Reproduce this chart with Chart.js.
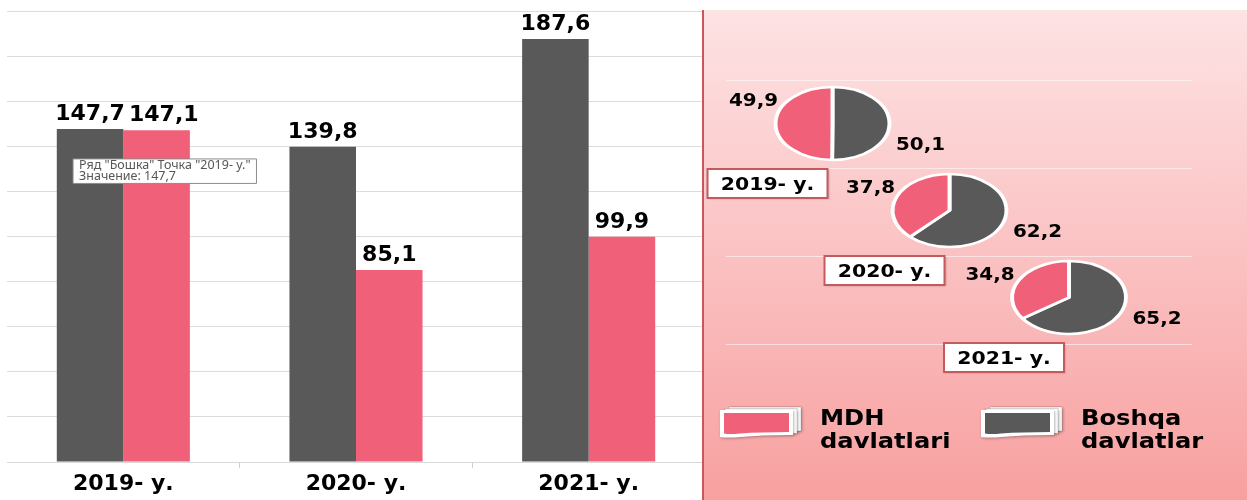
<!DOCTYPE html>
<html>
<head>
<meta charset="utf-8">
<title>MDH / Boshqa davlatlar</title>
<script src="https://cdn.jsdelivr.net/npm/chart.js@4.4.1/dist/chart.umd.min.js"></script>
<style>
  html, body { margin: 0; padding: 0; background: #fff; }
  #wrap { position: relative; width: 1247px; height: 500px; overflow: hidden; }
  #barCanvas { position: absolute; left: 0; top: 0; }
  #panel {
    position: absolute; left: 702px; top: 10px; width: 545px; height: 490px;
    background: linear-gradient(to bottom, #fde3e4, #f8a0a0);
    box-shadow: inset 2px 0 0 #c9585b;
  }
  #panel canvas { position: absolute; left: 0; top: 0; }
</style>
</head>
<body>
<div id="wrap">
  <canvas id="barCanvas" width="705" height="500"></canvas>
  <div id="panel">
    <canvas id="panelCanvas" width="545" height="490"></canvas>
    <canvas id="pie0" width="545" height="490"></canvas>
    <canvas id="pie1" width="545" height="490"></canvas>
    <canvas id="pie2" width="545" height="490"></canvas>
  </div>
</div>
<script>
'use strict';
/* ------------------------------------------------------------DATA */
const categories = ['2019- у.', '2020- у.', '2021- у.'];
const boshqaValues = [147.7, 139.8, 187.6];
const mdhValues = [147.1, 85.1, 99.9];
const boshqaShare = [50.1, 62.2, 65.2];
const mdhShare = [49.9, 37.8, 34.8];
const seriesNames = ['Бошка', 'МДХ'];
const legendNames = ['MDH davlatlari', 'Boshqa davlatlar'];
const yMin = 0;
const yMax = 200;
const yStep = 20;

/* ------------------------------------------------------------LOOK */
const DARK = '#595959';
const PINK = '#f06179';
const FONT = '"DejaVu Sans", "Liberation Sans", sans-serif';
const PANEL_W = 545;
const PANEL_H = 490;
const pieSpots = [{cx: 130.5, cy: 113.5}, {cx: 247.5, cy: 200.5}, {cx: 367, cy: 287.5}];
//pie centres inside the pink panel

function fmt(v){
  return v.toFixed(1).replace('.', ',');
}

function drawWide(ctx, text, x, y, size, sx, align){
  ctx.save();
  ctx.font = 'bold ' + size + 'px ' + FONT;
  ctx.textAlign = align || 'left';
  ctx.textBaseline = 'alphabetic';
  ctx.translate(x, y);
  ctx.scale(sx, 1);
  ctx.fillText(text, 0, 0);
  ctx.restore();
}
//text in the picture is a little stretched sideways, so draw it wider

/* ------------------------------------------------------------BAR CHART */
const barValueLabels = {
  id: 'barValueLabels',
  afterDatasetsDraw(chart){
    const ctx = chart.ctx;
    ctx.save();
    ctx.fillStyle = '#000';
    ctx.font = 'bold 21px ' + FONT;
    const sx = 1.05;
    for (let i = 0; i < chart.data.labels.length; i++){
      let prev = null;
      chart.data.datasets.forEach((ds, di) => {
        const bar = chart.getDatasetMeta(di).data[i];
        const text = fmt(ds.data[i]);
        const w = ctx.measureText(text).width * sx;
        let x = bar.x;
        const y = bar.y - 9;
        if (prev && x - w / 2 < prev.right + 2 && Math.abs(y - prev.y) < 20){
          x = prev.right + 4 + w / 2;
        }
        //nudge a label right when it would run into its neighbour
        drawWide(ctx, text, x, y, 21, sx, 'center');
        prev = {right: x + w / 2, y: y};
      });
    }
    ctx.restore();
  }
};

Chart.Tooltip.positioners.pinned = function(items){
  if (!items.length) return false;
  const el = items[0].element;
  return {x: el.x - 17, y: el.y + 30, xAlign: 'left', yAlign: 'top'};
};
//keeps the hover note where the picture shows it

const tipFont = {family: '"Noto Sans", "DejaVu Sans", sans-serif', size: 12.5, weight: 'normal', lineHeight: 0.9};

const barChart = new Chart(document.getElementById('barCanvas'), {
  type: 'bar',
  data: {
    labels: categories,
    datasets: [{
      label: seriesNames[0],
      data: boshqaValues,
      backgroundColor: DARK
    }, {
      label: seriesNames[1],
      data: mdhValues,
      backgroundColor: PINK
    }]
  },
  options: {
    responsive: false,
    animation: false,
    events: [],
    layout: {padding: {left: 7, top: 11, right: 0, bottom: 0}},
    datasets: {bar: {barPercentage: 1, categoryPercentage: 0.572}},
    scales: {
      x: {
        grid: {
          drawOnChartArea: false,
          drawTicks: true,
          tickLength: 6,
          color: c => (c.index > 0 && c.index < categories.length) ? '#cfcfcf' : 'rgba(0,0,0,0)'
        },
        border: {color: '#d9d9d9'},
        ticks: {color: '#000', padding: 5, font: {family: FONT, weight: 'bold', size: 22, lineHeight: 1}}
      },
      y: {
        min: yMin,
        max: yMax,
        ticks: {stepSize: yStep, display: false},
        grid: {color: '#dcdcdc', drawTicks: false},
        border: {display: false}
      }
    },
    plugins: {
      legend: {display: false},
      tooltip: {
        position: 'pinned',
        xAlign: 'left',
        yAlign: 'top',
        backgroundColor: '#fff',
        borderColor: '#8c8c8c',
        borderWidth: 1,
        cornerRadius: 0,
        caretSize: 0,
        caretPadding: 0,
        displayColors: false,
        padding: {left: 6, right: 6, top: 1, bottom: 1},
        titleFont: tipFont,
        bodyFont: tipFont,
        titleColor: '#575757',
        bodyColor: '#575757',
        titleMarginBottom: 0,
        titleSpacing: 0,
        bodySpacing: 0,
        callbacks: {
          title: items => 'Ряд "' + items[0].dataset.label + '" Точка "' + items[0].label + '"',
          label: item => 'Значение: ' + fmt(item.raw)
        }
      }
    }
  },
  plugins: [barValueLabels]
});

barChart.tooltip.setActiveElements([{datasetIndex: 0, index: 0}], {x: 0, y: 0});
barChart.update();
//shows the note on the first dark bar

/* ------------------------------------------------------------PANEL (grid + legend) */
function drawCardIcon(ctx, x, y, color){
  ctx.save();
  ctx.shadowColor = 'rgba(0,0,0,0.3)';
  ctx.shadowBlur = 3;
  ctx.shadowOffsetX = 1;
  ctx.shadowOffsetY = 1;
  ctx.fillStyle = '#fff';
  ctx.strokeStyle = 'rgba(0,0,0,0.18)';
  ctx.lineWidth = 0.8;
  ctx.fillRect(x + 9, y - 1, 72, 24);
  ctx.strokeRect(x + 9, y - 1, 72, 24);
  ctx.fillRect(x + 5, y + 0.5, 72, 25);
  ctx.strokeRect(x + 5, y + 0.5, 72, 25);
  ctx.beginPath();
  ctx.moveTo(x, y + 2);
  ctx.lineTo(x + 73, y + 2);
  ctx.lineTo(x + 73, y + 27);
  ctx.quadraticCurveTo(x + 40, y + 27, x + 20, y + 29);
  ctx.quadraticCurveTo(x + 8, y + 30, x, y + 29);
  ctx.closePath();
  ctx.fill();
  ctx.restore();
  ctx.save();
  ctx.fillStyle = color;
  ctx.beginPath();
  ctx.moveTo(x + 4, y + 5);
  ctx.lineTo(x + 69, y + 5);
  ctx.lineTo(x + 69, y + 24);
  ctx.quadraticCurveTo(x + 40, y + 24, x + 20, y + 25.5);
  ctx.quadraticCurveTo(x + 10, y + 26.5, x + 4, y + 25.5);
  ctx.closePath();
  ctx.fill();
  ctx.restore();
}

const panelLegend = {
  id: 'panelLegend',
  afterDraw(chart){
    const ctx = chart.ctx;
    const lefts = [18, 279];
    ctx.save();
    chart.data.datasets.forEach((ds, k) => {
      const left = lefts[k];
      drawCardIcon(ctx, left, 398, ds.backgroundColor);
      const words = ds.label.split(' ');
      ctx.fillStyle = '#000';
      drawWide(ctx, words[0], left + 100, 415, 20.5, 1.18);
      drawWide(ctx, words.slice(1).join(' '), left + 100, 437.5, 20.5, 1.18);
    });
    ctx.restore();
  }
};

new Chart(document.getElementById('panelCanvas'), {
  type: 'scatter',
  data: {
    datasets: [
      {label: legendNames[0], data: [], backgroundColor: PINK},
      {label: legendNames[1], data: [], backgroundColor: DARK}
    ]
  },
  options: {
    responsive: false,
    animation: false,
    events: [],
    layout: {padding: {left: 23.5, right: 55, top: 70, bottom: 156}},
    scales: {
      x: {display: false, min: 0, max: 1},
      y: {
        min: 0,
        max: 3,
        ticks: {stepSize: 1, display: false},
        grid: {color: 'rgba(255,255,255,0.55)', drawTicks: false},
        border: {display: false}
      }
    },
    plugins: {legend: {display: false}, tooltip: {enabled: false}}
  },
  plugins: [panelLegend]
});

/* ------------------------------------------------------------PIES */
const pieExtras = {
  id: 'pieExtras',
  beforeDatasetsDraw(chart, args, opts){
    const arc = chart.getDatasetMeta(0).data[0];
    const ctx = chart.ctx;
    ctx.save();
    ctx.translate(arc.x, arc.y);
    ctx.scale(opts.stretch, 1);
    ctx.translate(-arc.x, -arc.y);
  },
  //pies in the picture are squashed into ellipses
  afterDatasetsDraw(chart){
    chart.ctx.restore();
  },
  afterDraw(chart, args, opts){
    const ctx = chart.ctx;
    const arc = chart.getDatasetMeta(0).data[0];
    const cx = arc.x;
    const cy = arc.y;
    const vals = chart.data.datasets[0].data;
    ctx.save();
    ctx.fillStyle = '#000';
    drawWide(ctx, fmt(vals[0]), cx + 88, cy + 26, 17, 1.17, 'center');
    drawWide(ctx, fmt(vals[1]), cx - 79, cy - 18, 17, 1.17, 'center');
    //year box under the pie
    const bx = cx - 65;
    const by = cy + 60;
    ctx.shadowColor = 'rgba(0,0,0,0.25)';
    ctx.shadowBlur = 2;
    ctx.shadowOffsetX = 1;
    ctx.shadowOffsetY = 1;
    ctx.fillStyle = '#fff';
    ctx.fillRect(bx - 60, by - 14.5, 120, 29);
    ctx.shadowColor = 'rgba(0,0,0,0)';
    ctx.strokeStyle = '#c55a5c';
    ctx.lineWidth = 2;
    ctx.strokeRect(bx - 60, by - 14.5, 120, 29);
    ctx.fillStyle = '#000';
    drawWide(ctx, opts.year, bx, by + 6.2, 17, 1.2, 'center');
    ctx.restore();
  }
};

function makePie(i){
  const spot = pieSpots[i];
  return new Chart(document.getElementById('pie' + i), {
    type: 'pie',
    data: {
      labels: [legendNames[1], legendNames[0]],
      datasets: [{
        data: [boshqaShare[i], mdhShare[i]],
        backgroundColor: [DARK, PINK],
        borderColor: '#fff',
        borderWidth: 2.5,
        radius: 36.5,
        hoverOffset: 0
      }]
    },
    options: {
      responsive: false,
      animation: false,
      events: [],
      layout: {padding: {
        left: spot.cx - 40,
        top: spot.cy - 40,
        right: PANEL_W - spot.cx - 40,
        bottom: PANEL_H - spot.cy - 40
      }},
      plugins: {
        legend: {display: false},
        tooltip: {enabled: false},
        pieExtras: {year: categories[i], stretch: 1.56}
      }
    },
    plugins: [pieExtras]
  });
}

for (let i = 0; i < categories.length; i++){
  makePie(i);
}
</script>
</body>
</html>
